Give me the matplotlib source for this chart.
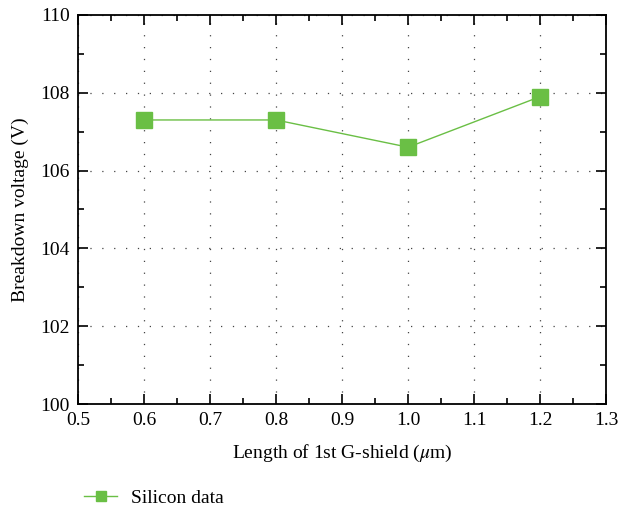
import matplotlib
matplotlib.use("Agg")
import matplotlib.pyplot as plt
from matplotlib.ticker import MultipleLocator

# Data
LENGTHS = [0.6, 0.8, 1.0, 1.2]
VOLTAGES = [107.3, 107.3, 106.6, 107.9]
SERIES_LABEL = "Silicon data"
GREEN = "#6abf45"

plt.rcParams['font.family'] = ['Liberation Serif', 'DejaVu Serif']
plt.rcParams['mathtext.fontset'] = 'stix'


def main():
    fig = plt.figure(figsize=(6.18, 5.14), dpi=100)
    ax = fig.add_axes([0.126, 0.214, 0.855, 0.757])
    line, = ax.plot(LENGTHS, VOLTAGES, color=GREEN, lw=1.0, marker="s",
                    markersize=12, markeredgecolor=GREEN,
                    label=SERIES_LABEL)
    ax.set_xlim(0.5, 1.3)
    ax.set_ylim(100, 110)
    ax.xaxis.set_major_locator(MultipleLocator(0.1))
    ax.xaxis.set_minor_locator(MultipleLocator(0.05))
    ax.yaxis.set_major_locator(MultipleLocator(2))
    ax.yaxis.set_minor_locator(MultipleLocator(1))
    ax.set_xticklabels([f"{v:.1f}" for v in ax.get_xticks()])
    ax.tick_params(which="both", direction="in", top=True, right=True,
                   labelsize=14, width=1.2)
    ax.tick_params(which="major", length=7)
    ax.tick_params(which="minor", length=4)
    ax.tick_params(axis="x", pad=6)
    ax.tick_params(axis="y", pad=6)
    ax.grid(True, which="major", color="#444444", linestyle=(0, (1, 8.5)),
            lw=0.9)
    for sp in ax.spines.values():
        sp.set_linewidth(1.3)
    ax.set_xlabel(r"Length of 1st G-shield ($\mu$m)", fontsize=14,
                  labelpad=10)
    ax.set_ylabel("Breakdown voltage (V)", fontsize=14, labelpad=8)

    fig.legend(handles=[line], loc="lower left",
               bbox_to_anchor=(0.108, -0.02), frameon=False,
               fontsize=14, markerscale=0.6, handlelength=1.7,
               handletextpad=0.7)
    fig.savefig("out.png", dpi=100)
    plt.close()


if __name__ == "__main__":
    main()
